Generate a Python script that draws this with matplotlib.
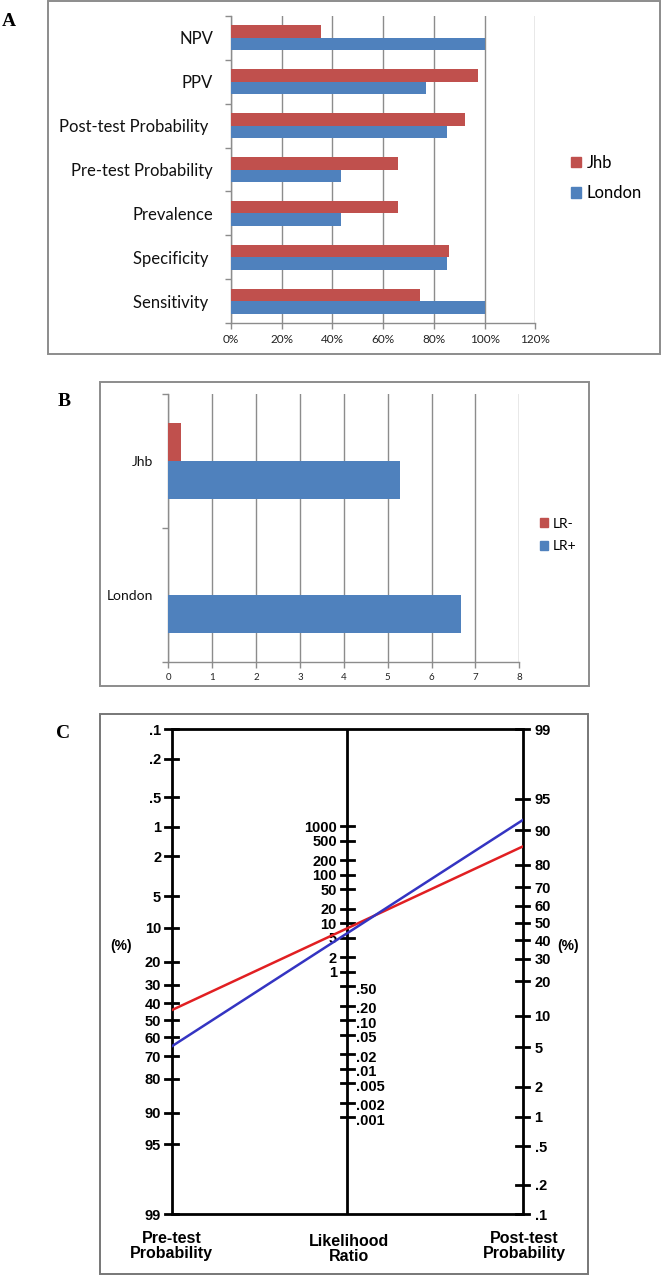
import matplotlib
matplotlib.use('Agg')
import matplotlib.pyplot as plt
import numpy as np
from matplotlib.patches import Rectangle, Patch

# ---------------- data ----------------
cats_A = ['Sensitivity ', 'Specificity ', 'Prevalence', 'Pre-test Probability',
          'Post-test Probability ', 'PPV', 'NPV']
jhb_A = [0.745, 0.858, 0.66, 0.66, 0.922, 0.973, 0.353]
london_A = [1.00, 0.85, 0.433, 0.433, 0.85, 0.77, 1.00]
xticks_A = [0, 0.2, 0.4, 0.6, 0.8, 1.0, 1.2]
xticklabels_A = ['0%', '20%', '40%', '60%', '80%', '100%', '120%']

cats_B = ['London', 'Jhb']
lr_neg = [0.0, 0.29]
lr_pos = [6.67, 5.28]
xticks_B = [0, 1, 2, 3, 4, 5, 6, 7, 8]

pre_ticks = [0.1, 0.2, 0.5, 1, 2, 5, 10, 20, 30, 40, 50, 60, 70, 80, 90, 95, 99]
pre_labels = ['.1', '.2', '.5', '1', '2', '5', '10', '20', '30', '40', '50', '60', '70', '80', '90', '95', '99']
post_ticks = [99, 95, 90, 80, 70, 60, 50, 40, 30, 20, 10, 5, 2, 1, 0.5, 0.2, 0.1]
post_labels = ['99', '95', '90', '80', '70', '60', '50', '40', '30', '20', '10', '5', '2', '1', '.5', '.2', '.1']
lr_ticks = [1000, 500, 200, 100, 50, 20, 10, 5, 2, 1, 0.5, 0.2, 0.1, 0.05, 0.02, 0.01, 0.005, 0.002, 0.001]
lr_labels = ['1000', '500', '200', '100', '50', '20', '10', '5', '2', '1', '.50', '.20', '.10', '.05', '.02', '.01', '.005', '.002', '.001']
line_pre = [44, 65]
line_post = [86, 92]
line_colors = ['#e11f22', '#3434c2']

# ---------------- figure ----------------
W, H = 661, 1275
fig = plt.figure(figsize=(W / 100, H / 100), dpi=100)
fig.patch.set_facecolor('white')

RED = '#c0504d'
BLUE = '#4f81bd'
GRID = '#8c8c8c'
SANS = ['Lato', 'DejaVu Sans']
BOLD = ['Liberation Sans', 'DejaVu Sans']
SERIF = ['Liberation Serif', 'DejaVu Serif']


def rect(x0, y0, x1, y1):
    return [x0 / W, 1 - y1 / H, (x1 - x0) / W, (y1 - y0) / H]


def box(x0, y0, x1, y1, color='#8c8c8c', lw=1.4):
    fig.add_artist(Rectangle((x0 / W, 1 - y1 / H), (x1 - x0) / W, (y1 - y0) / H,
                             transform=fig.transFigure, fill=False,
                             edgecolor=color, linewidth=lw))


def ftext(x, y, s, **kw):
    fig.text(x / W, 1 - y / H, s, **kw)


# ---------------- Panel A ----------------
box(48, 1, 660, 354)
ftext(9, 22, 'A', family=SERIF, fontweight='bold', fontsize=14, ha='center', va='center')
axA = fig.add_axes(rect(231, 15.7, 535.4, 323.3))
yA = np.arange(len(cats_A))
axA.barh(yA + 0.14, jhb_A, height=0.28, color=RED, label='Jhb', zorder=3)
axA.barh(yA - 0.14, london_A, height=0.28, color=BLUE, label='London', zorder=3)
axA.set_xlim(0, 1.2)
axA.set_ylim(-0.5, len(cats_A) - 0.5)
axA.set_xticks(xticks_A)
axA.set_xticklabels(xticklabels_A, family=SANS, fontsize=8.5, color='#222222')
axA.set_yticks(yA)
axA.set_yticklabels(cats_A, family=SANS, fontsize=12, color='#111111')
axA.set_yticks(np.arange(-0.5, len(cats_A), 1.0), minor=True)
axA.tick_params(axis='y', which='major', length=0, pad=13)
axA.tick_params(axis='y', which='minor', length=4, color=GRID, width=1)
axA.tick_params(axis='x', length=4, color=GRID, width=1, pad=4)
axA.xaxis.grid(True, color=GRID, lw=1)
axA.set_axisbelow(True)
for s in ['top', 'right']:
    axA.spines[s].set_visible(False)
for s in ['left', 'bottom']:
    axA.spines[s].set_color(GRID)
    axA.spines[s].set_linewidth(1)
hA = [Patch(color=RED, label='Jhb'), Patch(color=BLUE, label='London')]
axA.legend(handles=hA, loc='center left', bbox_to_anchor=(571 / W, 1 - 178 / H),
           bbox_transform=fig.transFigure, frameon=False, handlelength=0.6,
           handleheight=0.6, handletextpad=0.35, labelspacing=0.85, borderpad=0,
           borderaxespad=0, prop={'family': SANS, 'size': 12})

# ---------------- Panel B ----------------
box(100, 382, 589, 686)
ftext(64, 402, 'B', family=SERIF, fontweight='bold', fontsize=14, ha='center', va='center')
axB = fig.add_axes(rect(168.3, 394, 519.3, 662))
yB = np.arange(len(cats_B))
axB.barh(yB + 0.142, lr_neg, height=0.284, color=RED, zorder=3)
axB.barh(yB - 0.142, lr_pos, height=0.284, color=BLUE, zorder=3)
axB.set_xlim(0, 8)
axB.set_ylim(-0.5, len(cats_B) - 0.5)
axB.set_xticks(xticks_B)
axB.set_xticklabels([str(v) for v in xticks_B], family=SANS, fontsize=7, color='#222222')
axB.set_yticks(yB)
axB.set_yticklabels(cats_B, family=SANS, fontsize=10, color='#111111')
axB.set_yticks(np.arange(-0.5, len(cats_B), 1.0), minor=True)
axB.tick_params(axis='y', which='major', length=0, pad=11)
axB.tick_params(axis='y', which='minor', length=4, color=GRID, width=1)
axB.tick_params(axis='x', length=4, color=GRID, width=1, pad=4)
axB.xaxis.grid(True, color=GRID, lw=1)
axB.set_axisbelow(True)
for s in ['top', 'right']:
    axB.spines[s].set_visible(False)
for s in ['left', 'bottom']:
    axB.spines[s].set_color(GRID)
    axB.spines[s].set_linewidth(1)
hB = [Patch(color=RED, label='LR-'), Patch(color=BLUE, label='LR+')]
axB.legend(handles=hB, loc='center left', bbox_to_anchor=(540 / W, 1 - 535 / H),
           bbox_transform=fig.transFigure, frameon=False, handlelength=0.6,
           handleheight=0.6, handletextpad=0.3, labelspacing=0.75, borderpad=0,
           borderaxespad=0, prop={'family': SANS, 'size': 10})

# ---------------- Panel C (Fagan nomogram) ----------------
box(100, 714, 588, 1273.5, color='#777777', lw=1.4)
ftext(63, 734, 'C', family=SERIF, fontweight='bold', fontsize=14, ha='center', va='center')


def logit(p):
    p = np.asarray(p, dtype=float) / 100.0
    return np.log(p / (1 - p))


top_u = float(-logit(pre_ticks[0]))      # left .1 at top
bot_u = float(-logit(pre_ticks[-1]))     # left 99 at bottom
OFF = top_u - float(logit(post_ticks[0]))  # right 99 at top


def uL(p):
    return -logit(p)


def uR(p):
    return logit(p) + OFF


def uM(lr):
    return np.log(lr) / 2 + OFF / 2


axC = fig.add_axes(rect(171.6, 729.3, 522.8, 1214))
axC.set_xlim(0, 2)
axC.set_ylim(bot_u, top_u)
axC.axis('off')

LW = 2.0
for xv in [0, 1, 2]:
    axC.plot([xv, xv], [bot_u, top_u], color='black', lw=LW, clip_on=False, solid_capstyle='butt')
axC.plot([0, 2], [top_u, top_u], color='black', lw=LW, clip_on=False)
axC.plot([0, 2], [bot_u, bot_u], color='black', lw=LW, clip_on=False)

d = 2 / 351.2 * 6.5
FS = 10.5
for v, lab in zip(pre_ticks, pre_labels):
    u = float(uL(v))
    axC.plot([-d, d], [u, u], color='black', lw=LW, clip_on=False)
    axC.annotate(lab, (0, u), xytext=(-7.5, 0), textcoords='offset points', ha='right',
                 va='center_baseline', fontsize=FS, fontweight='bold', family=BOLD,
                 annotation_clip=False)
for v, lab in zip(post_ticks, post_labels):
    u = float(uR(v))
    axC.plot([2 - d, 2 + d], [u, u], color='black', lw=LW, clip_on=False)
    axC.annotate(lab, (2, u), xytext=(8.5, 0), textcoords='offset points', ha='left',
                 va='center_baseline', fontsize=FS, fontweight='bold', family=BOLD,
                 annotation_clip=False)
for v, lab in zip(lr_ticks, lr_labels):
    u = float(uM(v))
    axC.plot([1 - d, 1 + d], [u, u], color='black', lw=LW, clip_on=False)
    if v >= 1:
        axC.annotate(lab, (1, u), xytext=(-7.5, 0), textcoords='offset points', ha='right',
                     va='center_baseline', fontsize=FS, fontweight='bold', family=BOLD)
    else:
        axC.annotate(lab, (1, u), xytext=(6, -1.5), textcoords='offset points', ha='left',
                     va='center_baseline', fontsize=FS, fontweight='bold', family=BOLD)

for pre, post, c in zip(line_pre, line_post, line_colors):
    axC.plot([0, 2], [float(uL(pre)), float(uR(post))], color=c, lw=1.8, zorder=5)

ftext(121, 946, '(%)', family=BOLD, fontweight='bold', fontsize=10, ha='center', va='center')
ftext(568, 946, '(%)', family=BOLD, fontweight='bold', fontsize=10, ha='center', va='center')
ftext(171.6, 1246, 'Pre-test\nProbability', family=BOLD, fontweight='bold', fontsize=11.5,
      ha='center', va='center', linespacing=0.95)
ftext(349, 1249, 'Likelihood\nRatio', family=BOLD, fontweight='bold', fontsize=11.5,
      ha='center', va='center', linespacing=0.95)
ftext(524, 1246, 'Post-test\nProbability', family=BOLD, fontweight='bold', fontsize=11.5,
      ha='center', va='center', linespacing=0.95)

fig.savefig('out.png', dpi=100, facecolor='white')
